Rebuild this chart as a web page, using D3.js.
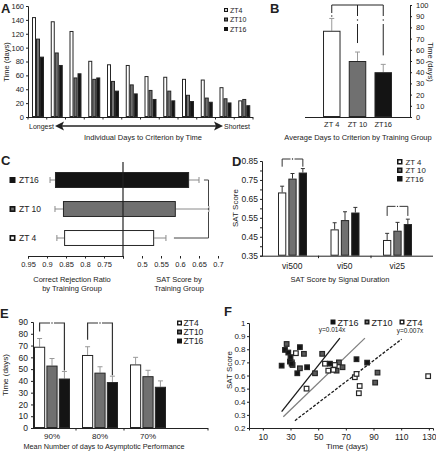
<!DOCTYPE html>
<html><head><meta charset="utf-8">
<script src="https://cdn.jsdelivr.net/npm/d3@7"></script>
<style>
body{margin:0;background:#fff}
svg{display:block;-webkit-font-smoothing:antialiased}
</style></head><body>
<svg id="c" width="436" height="451"></svg>
<script>
// ---------------- DATA ----------------
const groups = ["ZT4","ZT10","ZT16"];

// Panel A: individual days to criterion (ranked longest -> shortest)
const aRanks = [1,2,3,4,5,6,7,8,9,10,11,12];
const aZT4  = [144,138,124,81,76,75,59,58,55,54,43,24];
const aZT10 = [113,93,57,55,52,47,39,38,32,28,27,26];
const aZT16 = [87,75,63,57,38,34,26,24,23,22,21,17];
const aTicks = [0,20,40,60,80,100,120,140,160];

// Panel B: average days to criterion
const bCats = ["ZT 4","ZT 10","ZT16"];
const bMeans = [77,50,40];
const bErr = [11,8,7];
const bTicks = [0,10,20,30,40,50,60,70,80,90,100];

// Panel C: correct rejection ratio (left) / SAT score (right)
const cCats = ["ZT16","ZT 10","ZT 4"];
const cKeys = ["ZT16","ZT10","ZT4"];
const cRejection = [0.879,0.858,0.855];
const cRejErr = [0.013,0.021,0.019];
const cSAT = [0.624,0.589,0.532];
const cSATErr = [0.026,0.087,0.031];
const cLeftTicks = [0.95,0.9,0.85,0.8,0.75];
const cRightTicks = [0.5,0.55,0.6,0.65,0.7];

// Panel D: SAT score by signal duration
const dCats = ["vi500","vi50","vi25"];
const dZT4  = [0.684,0.489,0.433];
const dZT10 = [0.757,0.538,0.482];
const dZT16 = [0.789,0.578,0.517];
const dZT4Err  = [0.033,0.035,0.035];
const dZT10Err = [0.027,0.044,0.044];
const dZT16Err = [0.021,0.027,0.026];
const dLabelTicks = [0.35,0.45,0.55,0.65,0.75,0.85];
const dMinorTicks = [0.35,0.4,0.45,0.5,0.55,0.6,0.65,0.7,0.75,0.8,0.85];

// Panel E: mean days to asymptotic performance
const eCats = ["90%","80%","70%"];
const eZT4  = [69,62,54];
const eZT10 = [53,47,44];
const eZT16 = [42,39,35];
const eZT4Err  = [7,7,6];
const eZT10Err = [6,5,5];
const eZT16Err = [6,5,5];
const eTicks = [0,10,20,30,40,50,60,70,80,90];

// Panel F: SAT score vs time (days)
const fZT16 = [[23.6,0.675],[26,0.795],[28.4,0.775],[30,0.74],[29.6,0.706],[30.8,0.69],[36.8,0.816],[34.9,0.617],[42,0.663],[58.5,0.69],[77.7,0.724],[85.4,0.698]];
const fZT10 = [[27.2,0.84],[31.5,0.68],[36.8,0.655],[39.7,0.765],[47.7,0.617],[52.9,0.765],[65,0.70],[63.3,0.637],[67.6,0.663],[92.9,0.622],[91.2,0.546]];
const fZT4  = [[33.9,0.77],[31,0.70],[41.6,0.50],[54.9,0.69],[62,0.68],[57.3,0.637],[61,0.643],[76.5,0.587],[77.7,0.612],[80,0.52],[79.4,0.465],[129.5,0.595]];
const fLineZT16 = [[23.6,0.325],[65.7,0.885]];
const fLineZT10 = [[24.8,0.286],[83.8,0.885]];
const fLineZT4  = [[33.2,0.256],[110.3,0.877]];
const fXTicks = [10,30,50,70,90,110,130];
const fYTicks = [0.2,0.3,0.4,0.5,0.6,0.7,0.8,0.9,1];

// ---------------- HELPERS ----------------
const FONT = "'Liberation Sans', Arial, Helvetica, sans-serif";
const svg = d3.select("#c").attr("font-family", FONT);
const fillOf = {ZT4:"#ffffff", ZT10:"#707070", ZT16:"#141414"};
const STROKE = "#262626";
const INK = "#222";

function txt(g, x, y, s, opt={}) {
  const t = g.append("text").attr("x",x).attr("y",y).text(s)
    .attr("font-size", opt.size||7.5).attr("fill", opt.fill||INK)
    .attr("text-anchor", opt.anchor||"start");
  if (opt.bold) t.attr("font-weight","bold");
  if (opt.rotate!=null) t.attr("transform", `rotate(${opt.rotate},${x},${y})`);
  return t;
}
function styleAxis(g, size) {
  g.attr("font-family", FONT).attr("font-size", size);
  g.selectAll("path.domain").attr("stroke",INK);
  g.selectAll(".tick line").attr("stroke",INK);
  g.selectAll(".tick text").attr("fill",INK);
}
function legendSq(g, x, y, s, k) {
  g.append("rect").attr("x",x).attr("y",y).attr("width",s).attr("height",s).attr("fill","#141414");
  if (k!=="ZT16") {
    const i = s*0.45;
    g.append("rect").attr("x",x+(s-i)/2).attr("y",y+(s-i)/2).attr("width",i).attr("height",i).attr("fill",fillOf[k]);
  }
}
function bar(g, x, y0, y1, w, k) {
  const top = Math.min(y0,y1), h = Math.abs(y1-y0);
  g.append("rect").attr("x",x+0.5).attr("y",top+0.5).attr("width",Math.max(w-1,0.5)).attr("height",Math.max(h-1,0))
    .attr("fill",fillOf[k]).attr("stroke",STROKE).attr("stroke-width",1);
}
function vErr(g, x, yTop, yFrom, cap, color) {
  g.append("line").attr("x1",x).attr("x2",x).attr("y1",yFrom).attr("y2",yTop).attr("stroke",color).attr("stroke-width",1);
  g.append("line").attr("x1",x-cap/2).attr("x2",x+cap/2).attr("y1",yTop).attr("y2",yTop).attr("stroke",color).attr("stroke-width",1);
}
function dot(g, x, y) {
  g.append("circle").attr("cx",x).attr("cy",y).attr("r",0.7).attr("fill",INK);
}
function line(g, x1,y1,x2,y2, color, w, dash) {
  const l = g.append("line").attr("x1",x1).attr("y1",y1).attr("x2",x2).attr("y2",y2)
    .attr("stroke",color||INK).attr("stroke-width",w||1);
  if (dash) l.attr("stroke-dasharray",dash);
  return l;
}

// ---------------- PANEL A ----------------
{
  const g = svg.append("g");
  const x = d3.scaleBand().domain(aRanks).range([28,253]);
  const x1 = d3.scaleBand().domain(groups).range([4,16]);
  const y = d3.scaleLinear().domain([0,160]).range([117,6]);
  const series = {ZT4:aZT4, ZT10:aZT10, ZT16:aZT16};
  groups.forEach(k => {
    aRanks.forEach((r,i) => bar(g, x(r)+x1(k), y(0), y(series[k][i]), x1.bandwidth(), k));
  });
  const ya = g.append("g").attr("transform","translate(28,0)")
    .call(d3.axisLeft(y).tickValues(aTicks).tickSize(2).tickPadding(2));
  styleAxis(ya, 7.5);
  line(g, 28, y(0)+0.5, 253, y(0)+0.5);
  aRanks.concat([13]).forEach((r,i) => {
    const xx = i < aRanks.length ? x(r) : x.range()[1];
    line(g, xx, y(0), xx, y(0)+2.5);
  });
  txt(g, 1, 13, "A", {size:13, bold:true});
  txt(g, 9, 62, "Time (days)", {size:7.5, anchor:"middle", rotate:-90});
  // legend
  groups.forEach((k,i) => {
    legendSq(g, 224, 8+i*9.5, 4, k);
    txt(g, 230, 12.5+i*9.5, k, {size:7});
  });
  // arrow
  txt(g, 29, 128.5, "Longest", {size:7});
  txt(g, 224, 128.5, "Shortest", {size:7});
  line(g, 60, 126, 218, 126, INK, 1.3);
  g.append("path").attr("d","M55,126 L64,121.5 L62,126 L64,130.5 Z").attr("fill",INK);
  g.append("path").attr("d","M223,126 L214,121.5 L216,126 L214,130.5 Z").attr("fill",INK);
  txt(g, 143, 139.5, "Individual Days to Criterion by Time", {size:7.5, anchor:"middle"});
}

// ---------------- PANEL B ----------------
{
  const g = svg.append("g");
  const x = d3.scaleBand().domain(bCats).range([305,410]).paddingInner(0.32).paddingOuter(0.7);
  const y = d3.scaleLinear().domain([0,100]).range([117,5]);
  const keys = ["ZT4","ZT10","ZT16"];
  bCats.forEach((c,i) => {
    const cx = x(c)+x.bandwidth()/2;
    vErr(g, cx, y(bMeans[i]+bErr[i]), y(bMeans[i]), 5, "#9a9a9a");
    bar(g, x(c), y(0), y(bMeans[i]), x.bandwidth(), keys[i]);
    txt(g, cx, 127, c, {size:7.5, anchor:"middle"});
  });
  const ya = g.append("g").attr("transform","translate(410,0)")
    .call(d3.axisRight(y).tickValues(bTicks).tickSize(2).tickPadding(4));
  styleAxis(ya, 7.5);
  ya.selectAll(".tick text").attr("text-anchor","start");
  line(g, 305, y(0)+0.5, 410, y(0)+0.5);
  // significance bracket
  const cxs = bCats.map(c => x(c)+x.bandwidth()/2);
  const top = y(100);
  line(g, cxs[0], top, cxs[2], top, INK, 1);
  line(g, cxs[0], top, cxs[0], top+8, INK, 1); dot(g, cxs[0], top+11);
  [1,2].forEach(i => {
    line(g, cxs[i], top, cxs[i], top+11, INK, 1);
    dot(g, cxs[i], top+15);
    line(g, cxs[i], top+19, cxs[i], y(bMeans[i]+bErr[i])-9, INK, 1);
  });
  txt(g, 270, 13, "B", {size:13, bold:true});
  txt(g, 428, 62, "Time (days)", {size:7.5, anchor:"middle", rotate:90});
  txt(g, 358, 139.5, "Average Days to Criterion by Training Group", {size:7.5, anchor:"middle"});
}

// ---------------- PANEL C ----------------
{
  const g = svg.append("g");
  const xl = d3.scaleLinear().domain([0.95,0.70]).range([28,123]);
  const xr = d3.scaleLinear().domain([0.45,0.70]).range([123,218]);
  const y = d3.scaleBand().domain(cCats).range([165.5,252.5]).paddingInner(0.45).paddingOuter(0.225);
  cCats.forEach((c,i) => {
    const k = cKeys[i];
    const y0 = y(c), h = y.bandwidth(), cy = y0+h/2;
    const lx = xl(cRejection[i]), lw = xl(cRejection[i]+cRejErr[i]);
    const rx = xr(cSAT[i]), rw = xr(cSAT[i]+cSATErr[i]);
    line(g, lw, cy, lx, cy, "#8a8a8a", 1); line(g, lw, cy-3, lw, cy+3, "#8a8a8a", 1);
    line(g, rx, cy, rw, cy, "#8a8a8a", 1); line(g, rw, cy-3, rw, cy+3, "#8a8a8a", 1);
    g.append("rect").attr("x",lx+0.5).attr("y",y0+0.5).attr("width",rx-lx-1).attr("height",h-1)
      .attr("fill",fillOf[k]).attr("stroke",STROKE).attr("stroke-width",1);
    legendSq(g, 9.5, cy-3, 6, k);
    txt(g, 19, cy+3, c, {size:8.5});
  });
  line(g, 123, 162, 123, 256, INK, 1.2);
  const xa1 = g.append("g").attr("transform","translate(0,256)")
    .call(d3.axisBottom(xl).tickValues(cLeftTicks.concat([0.70])).tickSize(2.5).tickPadding(3)
      .tickFormat(d => d===0.70 ? "" : String(d)));
  styleAxis(xa1, 7.5);
  const xa2 = g.append("g").attr("transform","translate(0,256)")
    .call(d3.axisBottom(xr).tickValues(cRightTicks).tickSize(2.5).tickPadding(3).tickFormat(d => String(d)));
  styleAxis(xa2, 7.5);
  xa2.select("path.domain").remove();
  const yT = y(cCats[0])+y.bandwidth()/2, yB = y(cCats[2])+y.bandwidth()/2, yM = y(cCats[1])+y.bandwidth()/2;
  const xb = xr(0.675);
  g.append("path").attr("d",`M${xr(0.663)},${yT} H${xb} V${yM-3} M${xb},${yM+3} V${yB} H${xr(0.584)}`)
    .attr("fill","none").attr("stroke","#444").attr("stroke-width",1);
  dot(g, xb, yM);
  txt(g, 1, 165, "C", {size:13, bold:true});
  txt(g, 72, 282, "Correct Rejection Ratio", {size:7.5, anchor:"middle"});
  txt(g, 72, 290.5, "by Training Group", {size:7.5, anchor:"middle"});
  txt(g, 179, 282, "SAT Score by", {size:7.5, anchor:"middle"});
  txt(g, 179, 290.5, "Training Group", {size:7.5, anchor:"middle"});
}

// ---------------- PANEL D ----------------
{
  const g = svg.append("g");
  const x = d3.scaleBand().domain(dCats).range([266,423.5]);
  const x1 = d3.scaleBand().domain(groups).range([12,41]).paddingInner(0.2);
  const y = d3.scaleLinear().domain([0.35,0.85]).range([255.7,161]);
  const vals = {ZT4:dZT4, ZT10:dZT10, ZT16:dZT16};
  const errs = {ZT4:dZT4Err, ZT10:dZT10Err, ZT16:dZT16Err};
  dCats.forEach((c,i) => {
    groups.forEach(k => {
      const bx = x(c)+x1(k), cx = bx + x1.bandwidth()/2;
      vErr(g, cx, y(vals[k][i]+errs[k][i]), y(vals[k][i]), 4, "#333");
      bar(g, bx, y(0.35), y(vals[k][i]), x1.bandwidth(), k);
    });
    txt(g, x(c)+x.bandwidth()/2, 268.5, c, {size:8.5, anchor:"middle"});
  });
  const ya = g.append("g").attr("transform","translate(262,0)")
    .call(d3.axisLeft(y).tickValues(dMinorTicks).tickSize(2).tickPadding(2)
      .tickFormat(d => dLabelTicks.some(t => Math.abs(t-d)<1e-6) ? d.toFixed(2) : ""));
  styleAxis(ya, 8.5);
  line(g, 262, y(0.35)+0.5, 433, y(0.35)+0.5);
  [dCats[1], dCats[2]].forEach(c => line(g, x(c), y(0.35), x(c), y(0.35)+2.5));
  [[0, 0.85, 0.82], [2, 0.6, 0.56]].forEach(([i, top, end]) => {
    const c = dCats[i];
    const xa = x(c)+x1("ZT4")+x1.bandwidth()/2, xb = x(c)+x1("ZT16")+x1.bandwidth()/2;
    const yt = y(top)-2, ye = y(end);
    g.append("path").attr("d",`M${xa},${ye} V${yt} H${(xa+xb)/2-2} M${(xa+xb)/2+2},${yt} H${xb} V${ye}`)
      .attr("fill","none").attr("stroke","#333").attr("stroke-width",1);
    dot(g, (xa+xb)/2, yt);
  });
  groups.forEach((k,i) => {
    legendSq(g, 397, 159+i*8.5, 5.5, k);
    txt(g, 405.5, 164.8+i*8.5, ["ZT 4","ZT 10","ZT16"][i], {size:7.8});
  });
  txt(g, 232, 166, "D", {size:13, bold:true});
  txt(g, 238, 208, "SAT Score", {size:8, anchor:"middle", rotate:-90});
  txt(g, 340, 282, "SAT Score by Signal Duration", {size:7.5, anchor:"middle"});
}

// ---------------- PANEL E ----------------
{
  const g = svg.append("g");
  const x = d3.scaleBand().domain(eCats).range([28,172]);
  const x1 = d3.scaleBand().domain(groups).range([6,42]).paddingInner(0.1);
  const y = d3.scaleLinear().domain([0,90]).range([428,322]);
  const vals = {ZT4:eZT4, ZT10:eZT10, ZT16:eZT16};
  const errs = {ZT4:eZT4Err, ZT10:eZT10Err, ZT16:eZT16Err};
  eCats.forEach((c,i) => {
    groups.forEach(k => {
      const bx = x(c)+x1(k), cx = bx + x1.bandwidth()/2;
      vErr(g, cx, y(vals[k][i]+errs[k][i]), y(vals[k][i]), 5, "#9a9a9a");
      bar(g, bx, y(0), y(vals[k][i]), x1.bandwidth(), k);
    });
    txt(g, x(c)+x.bandwidth()/2, 438.5, c, {size:8, anchor:"middle"});
  });
  const ya = g.append("g").attr("transform","translate(33,0)")
    .call(d3.axisLeft(y).tickValues(eTicks).tickSize(2).tickPadding(3));
  styleAxis(ya, 8.5);
  line(g, 33, y(0)+0.5, 208, y(0)+0.5);
  [eCats[1], eCats[2]].forEach(c => line(g, x(c), y(0), x(c), y(0)+2.5));
  line(g, 208, y(0), 208, y(0)+2.5);
  [0,1].forEach(i => {
    const c = eCats[i];
    const xa = x(c)+x1("ZT4")+x1.bandwidth()/2, xb = x(c)+x1("ZT16")+x1.bandwidth()/2;
    const yt = y(90)+1;
    const ya0 = y(eZT4[i]+eZT4Err[i])-7, yb0 = y(eZT16[i]+eZT16Err[i])-1;
    g.append("path").attr("d",`M${xa},${ya0} V${yt} H${(xa+xb)/2-2} M${(xa+xb)/2+2},${yt} H${xb} V${yb0}`)
      .attr("fill","none").attr("stroke","#333").attr("stroke-width",1.2);
    dot(g, (xa+xb)/2, yt);
  });
  groups.forEach((k,i) => {
    legendSq(g, 177, 320.5+i*9, 5, k);
    txt(g, 183.5, 326+i*9, k, {size:8.5});
  });
  txt(g, 0, 318, "E", {size:13, bold:true});
  txt(g, 8, 375, "Time (days)", {size:8, anchor:"middle", rotate:-90});
  txt(g, 104, 448.5, "Mean Number of days to Asymptotic Performance", {size:7.3, anchor:"middle"});
}

// ---------------- PANEL F ----------------
{
  const g = svg.append("g");
  const x = d3.scaleLinear().domain([0,133]).range([249,433]);
  const y = d3.scaleLinear().domain([0.2,1]).range([428,323]);
  [[fLineZT16, "#1a1a1a", null],[fLineZT10, "#808080", null],[fLineZT4, "#1a1a1a", "3,1.6"]].forEach(([L,col,dash]) => {
    line(g, x(L[0][0]), y(L[0][1]), x(L[1][0]), y(L[1][1]), col, 1.3, dash);
  });
  txt(g, 332, 332, "y=0.014x", {size:6.5, anchor:"middle"});
  txt(g, 410, 333, "y=0.007x", {size:6.5, anchor:"middle"});
  const s = 4.6;
  [["ZT10", fZT10],["ZT4", fZT4],["ZT16", fZT16]].forEach(([k, pts]) => {
    g.append("g").selectAll("rect").data(pts).join("rect")
      .attr("x", d => x(d[0])-s/2).attr("y", d => y(d[1])-s/2)
      .attr("width", s).attr("height", s)
      .attr("fill", k==="ZT10" ? "#5a5a5a" : fillOf[k])
      .attr("stroke", STROKE).attr("stroke-width", 1.2);
  });
  const ya = g.append("g").attr("transform","translate(249,0)")
    .call(d3.axisLeft(y).tickValues(fYTicks).tickSize(2).tickPadding(1.5)
      .tickFormat(d => d===1 ? "1" : d.toFixed(1)));
  styleAxis(ya, 8);
  const xa = g.append("g").attr("transform","translate(0,428)")
    .call(d3.axisBottom(x).tickValues(fXTicks).tickSize(2.5).tickPadding(3));
  styleAxis(xa, 8.5);
  [["ZT16",330.5],["ZT10",364.5],["ZT4",399.5]].forEach(([k,lx]) => {
    legendSq(g, lx, 319.5, 5, k);
    txt(g, lx+7, 325.5, k, {size:9});
  });
  txt(g, 224, 316, "F", {size:13, bold:true});
  txt(g, 231.5, 370, "SAT Score", {size:8, anchor:"middle", rotate:-90});
  txt(g, 347, 448.5, "Time (days)", {size:8, anchor:"middle"});
}
</script>
</body></html>
